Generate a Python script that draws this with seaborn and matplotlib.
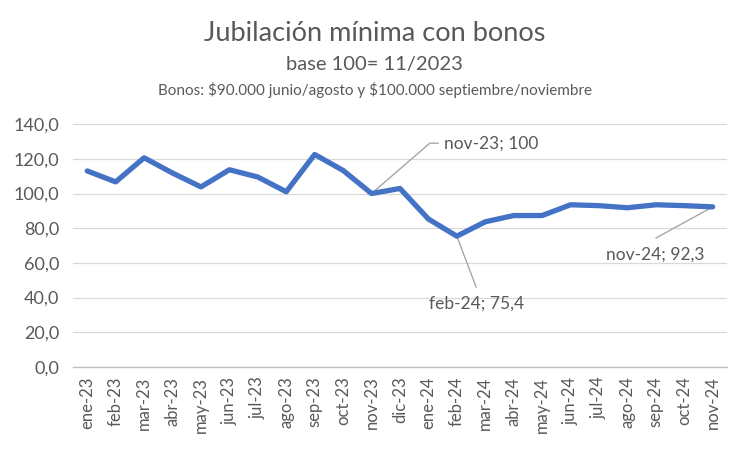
import pandas as pd
import matplotlib
matplotlib.use("Agg")
import matplotlib.pyplot as plt
import seaborn as sns
from matplotlib.ticker import FuncFormatter, MultipleLocator

# Datos: jubilación mínima con bonos, base 100 = 11/2023
meses = ["ene-23", "feb-23", "mar-23", "abr-23", "may-23", "jun-23", "jul-23",
         "ago-23", "sep-23", "oct-23", "nov-23", "dic-23",
         "ene-24", "feb-24", "mar-24", "abr-24", "may-24", "jun-24", "jul-24",
         "ago-24", "sep-24", "oct-24", "nov-24"]
indice = [113.0, 106.7, 120.6, 111.8, 103.8, 113.7, 109.5, 101.0, 122.5, 113.3,
          100.0, 102.9, 85.3, 75.4, 83.7, 87.3, 87.3, 93.5, 93.0, 91.8, 93.5,
          93.0, 92.3]

dati = pd.DataFrame({"mes": meses, "indice": indice})

gris = "#595959"
sns.set_theme(style="white")
plt.rcParams["font.family"] = ["Lato", "DejaVu Sans"]
plt.rcParams["text.parse_math"] = False

fig = plt.figure(figsize=(7.49, 4.49), dpi=100)
ax = fig.add_axes([0.0975, 0.1826, 0.873, 0.541])

sns.lineplot(data=dati, x="mes", y="indice", sort=False, color="#4472C4",
             linewidth=3.8, ax=ax, zorder=3)

ax.set_xlim(-0.5, len(meses) - 0.5)
ax.set_ylim(0, 140)
ax.yaxis.set_major_locator(MultipleLocator(20))
ax.yaxis.set_major_formatter(FuncFormatter(lambda v, p: f"{v:.1f}".replace(".", ",")))
ax.grid(axis="y", color="#D9D9D9", linewidth=0.9)
ax.set_axisbelow(True)
ax.set_xlabel("")
ax.set_ylabel("")
for lado in ["top", "right", "left"]:
    ax.spines[lado].set_visible(False)
ax.spines["bottom"].set_color("#BFBFBF")
ax.spines["bottom"].set_linewidth(1.0)
ax.tick_params(axis="x", rotation=90, labelsize=12, colors=gris, length=0, pad=7)
ax.tick_params(axis="y", labelsize=13, colors=gris, length=0, pad=10)

# Etiquetas de datos con líneas guía
i_nov23 = meses.index("nov-23")
ax.plot([i_nov23, 12.05, 12.35], [indice[i_nov23], 129, 129], color="#A6A6A6", lw=1, zorder=2)
ax.text(12.55, 129, f"nov-23; {indice[i_nov23]:.0f}", color=gris, fontsize=12.5,
        ha="left", va="center")

i_feb24 = meses.index("feb-24")
ax.plot([i_feb24, 13.68], [indice[i_feb24], 46], color="#A6A6A6", lw=1, zorder=2)
ax.text(13.68, 36.5, f"feb-24; {indice[i_feb24]:.1f}".replace(".", ","), color=gris,
        fontsize=12.5, ha="center", va="center")

i_nov24 = meses.index("nov-24")
ax.plot([i_nov24, 20.0], [indice[i_nov24], 74.3], color="#A6A6A6", lw=1, zorder=2)
ax.text(19.97, 64.9, f"nov-24; {indice[i_nov24]:.1f}".replace(".", ","), color=gris,
        fontsize=12.5, ha="center", va="center")

# Títulos
fig.text(0.50, 0.926, "Jubilación mínima con bonos", ha="center", va="center",
         fontsize=19.5, color=gris)
fig.text(0.50, 0.856, "base 100= 11/2023", ha="center", va="center",
         fontsize=14.5, color=gris)
fig.text(0.50, 0.800, "Bonos: $90.000 junio/agosto y $100.000 septiembre/noviembre",
         ha="center", va="center", fontsize=11, color=gris)

fig.savefig("out.png", dpi=100, facecolor="white")
